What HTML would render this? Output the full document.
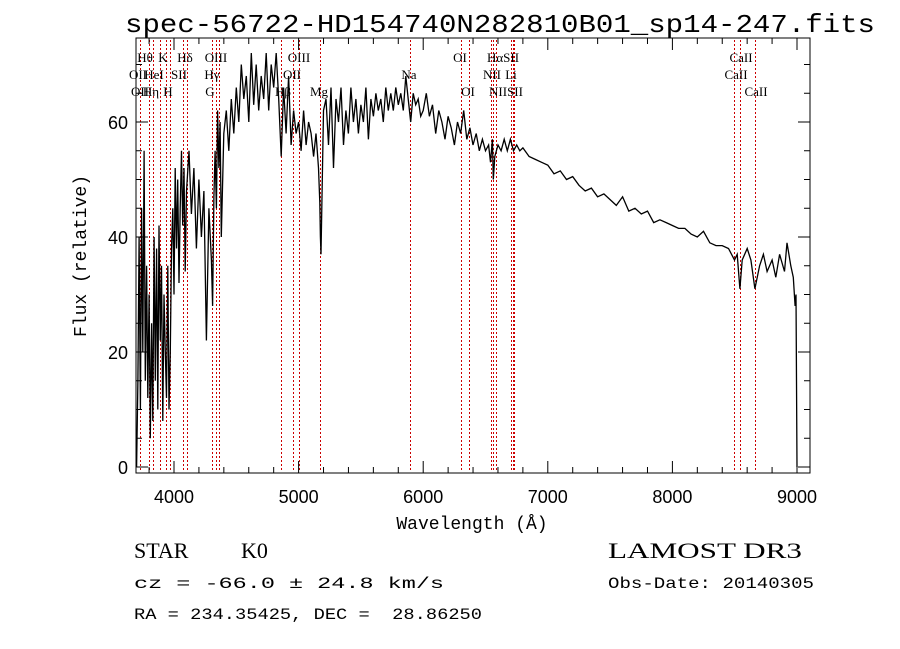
<!DOCTYPE html>
<html><head><meta charset="utf-8"><style>
body{margin:0;background:#fff;}
svg{display:block;}
text{fill:#000;white-space:pre;}
</style></head><body>
<svg id="chart" width="900" height="649" xmlns="http://www.w3.org/2000/svg">
<rect width="900" height="649" fill="#fff"/>
<text x="500" y="32" text-anchor="middle" font-family="Liberation Mono, monospace" font-size="26" textLength="750" lengthAdjust="spacingAndGlyphs">spec-56722-HD154740N282810B01_sp14-247.fits</text>
<g id="lines"></g>
<g id="labels" font-family="Liberation Serif, serif" font-size="13"></g>
<path id="spec" fill="none" stroke="#000" stroke-width="1.3"/>
<rect x="136" y="38" width="674" height="435" fill="none" stroke="#000" stroke-width="1"/>
<g id="axes" stroke="#000"></g>
<g id="ticklabels" font-family="Liberation Sans, sans-serif" font-size="18"></g>
<text x="472" y="529" text-anchor="middle" font-family="Liberation Mono, monospace" font-size="18">Wavelength (Å)</text>
<text transform="translate(86,256) rotate(-90)" text-anchor="middle" font-family="Liberation Mono, monospace" font-size="18">Flux (relative)</text>
<text x="134" y="558" font-family="Liberation Serif, serif" font-size="22" xml:space="preserve">STAR</text>
<text x="241" y="558" font-family="Liberation Serif, serif" font-size="22">K0</text>
<text x="608" y="558" font-family="Liberation Serif, serif" font-size="22" textLength="194" lengthAdjust="spacingAndGlyphs">LAMOST DR3</text>
<text x="134" y="588" font-family="Liberation Mono, monospace" font-size="16" textLength="310" lengthAdjust="spacingAndGlyphs">cz = -66.0 ± 24.8 km/s</text>
<text x="608" y="588" font-family="Liberation Mono, monospace" font-size="16" textLength="206" lengthAdjust="spacingAndGlyphs">Obs-Date: 20140305</text>
<text x="134" y="619" font-family="Liberation Mono, monospace" font-size="16" xml:space="preserve" textLength="348" lengthAdjust="spacingAndGlyphs">RA = 234.35425, DEC =  28.86250</text>
</svg>
<script>
const wave=[3700,3710,3720,3730,3740,3750,3760,3770,3780,3790,3800,3810,3820,3830,3840,3850,3860,3870,3880,3890,3900,3910,3920,3930,3940,3950,3960,3970,3980,3990,4000,4010,4020,4030,4040,4050,4060,4070,4080,4090,4100,4120,4140,4160,4180,4200,4220,4240,4260,4280,4300,4310,4320,4330,4340,4350,4360,4370,4380,4400,4420,4440,4460,4480,4500,4520,4540,4560,4580,4600,4620,4640,4660,4680,4700,4720,4740,4760,4780,4800,4820,4840,4860,4880,4900,4920,4940,4960,4980,5000,5020,5040,5060,5080,5100,5120,5140,5160,5170,5175,5180,5190,5200,5220,5240,5260,5280,5300,5320,5340,5360,5380,5400,5420,5440,5460,5480,5500,5520,5540,5560,5580,5600,5620,5640,5660,5680,5700,5720,5740,5760,5780,5800,5820,5840,5860,5880,5900,5920,5940,5960,5980,
6000,6025,6050,6075,6100,6125,6150,6175,6200,6225,6250,6275,6300,6325,6350,6375,6400,6425,6450,6475,6500,6525,6540,6555,6563,6575,6600,6625,6650,6675,6700,6725,6750,6775,6800,6850,6900,6950,7000,7050,7100,7150,7200,7250,7300,7350,7400,7450,7500,7550,7600,7650,7700,7750,7800,7850,7900,7950,8000,8050,8100,8150,8200,8250,8300,8350,8400,8450,8498,8520,8542,8560,8600,8630,8662,8700,8730,8760,8800,8830,8860,8900,8920,8950,8970,8985,8992,9000];
const flux=[0,15,40,10,45,20,55,15,35,12,30,5,25,8,40,15,38,10,42,22,35,8,30,20,12,35,10,20,38,45,30,52,38,50,32,45,55,42,52,34,48,55,44,52,38,50,40,48,22,45,36,28,47,55,45,62,52,60,40,58,62,55,64,58,66,60,70,64,68,60,72,63,70,62,68,64,72,62,70,66,72,64,54,66,58,68,56,62,58,60,55,62,56,60,58,54,58,52,46,40,37,50,62,64,56,66,52,64,60,66,56,62,58,66,60,64,58,63,60,66,57,64,61,65,62,64,60,66,62,65,62,66,63,65,62,68,64,60,65,63,64,61,
62,65,61,63,58,62,60,57,61,59,56,60,58,62,57,59,56,58,55,57,55,56,53,57,50,54,56,55,57,55,57,55,56,55,55.5,54,53.5,53,52.5,51,51.5,50,50.5,49,48,48.5,47,47.5,46.5,45.5,47,44.5,45,44,44.5,42.5,43,42.5,42,41.5,41.5,40.5,40,41,39,38.5,38.5,38,36,37,31,36,38,36,31,35,37,34,36,33,37,34,39,35,33,28,30,0];
const xTicks=[4000,5000,6000,7000,8000,9000];
const yTicks=[0,20,40,60];
const lineWaves=[3727,3798,3835,3889,3934,3969,4073,4102,4304,4341,4363,4861,4959,5007,5175,5894,6300,6364,6548,6563,6583,6708,6717,6731,8498,8542,8662];
const lineLabels=[["Hθ",145,58],["K",163,58],["Hδ",185,58],["OIII",216,58],["OIII",299,58],["OI",460,58],["HαSII",503,58],["CaII",741,58],
["OII",138,75],["HeI",154,75],["SII",179,75],["Hγ",212,75],["OII",292,75],["Na",409,75],["NII",492,75],["Li",511,75],["CaII",736,75],
["OII",140,92],["Hη",151,92],["H",168,92],["G",210,92],["Hβ",283,92],["Mg",319,92],["OI",468,92],["NIISII",506,92],["CaII",756,92]];
const X=w=>174+(w-4000)*0.1246;
const Y=f=>467-f*5.75;
const NS='http://www.w3.org/2000/svg';
let d='';
for(let i=0;i<wave.length;i++){d+=(i?'L':'M')+X(wave[i]).toFixed(1)+' '+Y(Math.max(-1,flux[i])).toFixed(1);}
document.getElementById('spec').setAttribute('d',d);
const lg=document.getElementById('lines');
for(const w of lineWaves){const l=document.createElementNS(NS,'line');


const x=Math.round(X(w))+0.5;l.setAttribute('x1',x);l.setAttribute('x2',x);l.setAttribute('y1',40);l.setAttribute('y2',472);
l.setAttribute('stroke','#c00');l.setAttribute('stroke-dasharray','2,2');l.setAttribute('stroke-width','1');lg.appendChild(l);}
const lab=document.getElementById('labels');
for(const [t,x,y] of lineLabels){const e=document.createElementNS(NS,'text');


e.setAttribute('x',x);e.setAttribute('y',y+4);e.setAttribute('text-anchor','middle');e.textContent=t;lab.appendChild(e);}
const ax=document.getElementById('axes');const tl=document.getElementById('ticklabels');
function seg(x1,y1,x2,y2){const l=document.createElementNS(NS,'line');


l.setAttribute('x1',x1);l.setAttribute('y1',y1);l.setAttribute('x2',x2);l.setAttribute('y2',y2);ax.appendChild(l);}
for(let w=3800;w<=9100;w+=200){const x=X(w);const maj=w%1000===0;const len=maj?12:6;seg(x,473,x,473-len);seg(x,38,x,38+len);}
for(let f=0;f<=74;f+=5){const y=Y(f);const maj=f%20===0;const len=maj?12:6;seg(136,y,136+len,y);seg(810,y,810-len,y);}
for(const w of xTicks){const e=document.createElementNS(NS,'text');


e.setAttribute('x',X(w));e.setAttribute('y',503);e.setAttribute('text-anchor','middle');e.textContent=w;tl.appendChild(e);}
for(const f of yTicks){const e=document.createElementNS(NS,'text');


e.setAttribute('x',128);e.setAttribute('y',Y(f)+7);e.setAttribute('text-anchor','end');e.textContent=f;tl.appendChild(e);}
</script>
</body></html>
